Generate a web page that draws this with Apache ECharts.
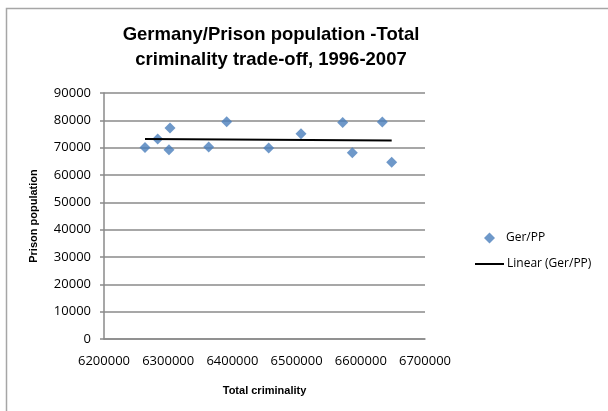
<!DOCTYPE html>
<html>
<head>
<meta charset="utf-8">
<script src="https://cdn.jsdelivr.net/npm/echarts@6/dist/echarts.min.js"></script>
<style>html,body{margin:0;padding:0;background:#fff;}#c{width:608px;height:411px;}</style>
</head>
<body>
<div id="c"></div>
<script>
// Data
var totalCriminality = [6263900, 6283600, 6302800, 6301200, 6363100, 6391100, 6456500, 6506900, 6571800, 6586800, 6633500, 6648100];
var prisonPopulation = [70100, 73150, 77200, 69250, 70200, 79500, 69850, 75100, 79250, 68150, 79400, 64700];
var trendX = [6263900, 6648100];
var trendY = [73150, 72630];
var xTicks = [6200000, 6300000, 6400000, 6500000, 6600000, 6700000];
var yTicks = [0, 10000, 20000, 30000, 40000, 50000, 60000, 70000, 80000, 90000];

var pts = totalCriminality.map(function (x, i) { return [x, prisonPopulation[i]]; });
var trend = trendX.map(function (x, i) { return [x, trendY[i]]; });

var chart = echarts.init(document.getElementById('c'), null, {renderer: 'canvas'});
var gray = '#8a8a8a';
var font = '"Open Sans", "Liberation Sans", sans-serif';
chart.setOption({
  animation: false,
  backgroundColor: '#fff',
  title: {
    text: 'Germany/Prison population -Total\ncriminality trade-off, 1996-2007',
    left: 266, top: 17, textAlign: 'center',
    textStyle: {fontFamily: '"Liberation Sans", sans-serif', fontWeight: 'bold', fontSize: 18.5, lineHeight: 25, color: '#000'}
  },
  graphic: [{
    type: 'rect', left: 4, top: 6, shape: {width: 640, height: 440},
    style: {fill: 'none', stroke: '#a6a6a6', lineWidth: 1.5}, silent: true
  }],
  legend: [{
    data: [{name: 'Ger/PP', icon: 'diamond'}],
    left: 479, top: 227, itemWidth: 11, itemHeight: 11, itemGap: 8,
    textStyle: {fontFamily: font, fontSize: 12, color: '#000', padding: [0, 0, 0, 6]}
  }, {
    data: [{name: 'Linear (Ger/PP)', icon: 'rect'}],
    left: 470, top: 253, itemWidth: 29, itemHeight: 2, itemGap: 2,
    textStyle: {fontFamily: font, fontSize: 12, color: '#000', padding: [0, 0, 0, -2]}
  }],
  grid: {left: 104, right: 183, top: 93, bottom: 72, containLabel: false},
  xAxis: {
    type: 'value', min: 6200000, max: 6700000, interval: 100000,
    name: 'Total criminality', nameLocation: 'middle', nameGap: 46,
    nameTextStyle: {fontFamily: '"Liberation Sans", sans-serif', fontWeight: 'bold', fontSize: 11, color: '#000'},
    axisLine: {show: true, lineStyle: {color: gray, width: 1.5}},
    axisTick: {show: false},
    splitLine: {show: false},
    axisLabel: {fontFamily: font, fontSize: 13, color: '#000', margin: 16,
      customValues: xTicks, formatter: function (v) { return String(v); }}
  },
  yAxis: {
    type: 'value', min: 0, max: 90000, interval: 10000,
    name: 'Prison population', nameLocation: 'middle', nameGap: 65, nameRotate: 90,
    nameTextStyle: {fontFamily: '"Liberation Sans", sans-serif', fontWeight: 'bold', fontSize: 11, color: '#000'},
    axisLine: {show: true, lineStyle: {color: gray, width: 1.5}},
    axisTick: {show: true, length: 4, inside: false, lineStyle: {color: gray, width: 1.5}},
    splitLine: {show: true, lineStyle: {color: gray, width: 1.5}},
    axisLabel: {fontFamily: font, fontSize: 13, color: '#000', margin: 13,
      formatter: function (v) { return yTicks.indexOf(v) >= 0 ? String(v) : ''; }}
  },
  series: [{
    name: 'Ger/PP', type: 'scatter', data: pts,
    symbol: 'diamond', symbolSize: 11,
    itemStyle: {color: '#4a7ebb'}
  }, {
    name: 'Linear (Ger/PP)', type: 'line', data: trend,
    symbol: 'none', lineStyle: {color: '#000', width: 2},
    itemStyle: {color: '#000'}
  }]
});
</script>
</body>
</html>
